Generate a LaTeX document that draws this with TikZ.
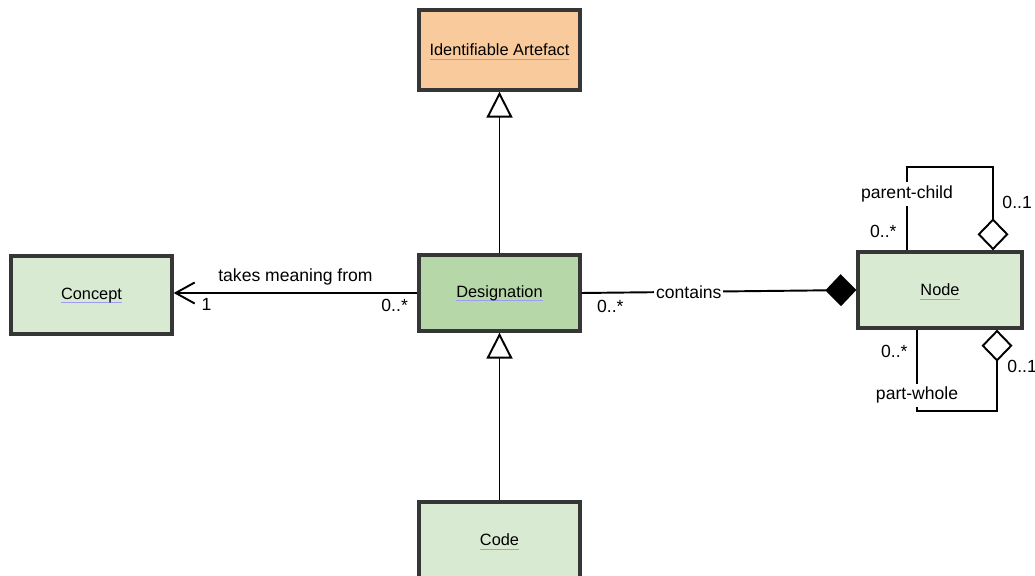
\documentclass[tikz,border=0pt]{standalone}
\usepackage{fontspec}
\setmainfont{Liberation Sans}
\usetikzlibrary{arrows.meta,positioning,calc}

\definecolor{artefactorange}{HTML}{F9CB9C}
\definecolor{lightgreen}{HTML}{D9EAD3}
\definecolor{midgreen}{HTML}{B6D7A8}
\definecolor{boxedge}{HTML}{363636}
\definecolor{linkblue}{HTML}{9C9CF2}

% underlined class name, like a link
\newcommand{\lnk}[1]{\setbox0\hbox{#1}\rlap{\smash{\color{linkblue}\rule[-2.4pt]{\wd0}{0.6pt}}}\box0}

\begin{document}
\begin{tikzpicture}[>={Straight Barb[length=0.38cm,width=0.42cm]},
  cls/.style={draw=boxedge, line width=1.9pt, minimum width=3.22cm, minimum height=1.52cm,
    font=\fontsize{9.3}{11}\selectfont},
  lbl/.style={font=\fontsize{10}{12}\selectfont, inner sep=2pt},
  conn/.style={line width=1.1pt},
  gen/.style={conn, -{Triangle[open,length=0.52cm,width=0.52cm]}},
  comp/.style={conn, -{Diamond[length=0.62cm,width=0.64cm]}},
  aggr/.style={conn, -{Diamond[open,length=0.64cm,width=0.62cm]}}]

\useasboundingbox (0,0) rectangle (20.7,11.52);

% Classes
\node[cls, fill=artefactorange, minimum height=1.6cm] (art) at (9.99,10.52) {\lnk{Identifiable Artefact}};
\node[cls, fill=lightgreen, minimum height=1.56cm] (concept) at (1.83,5.62) {\lnk{Concept}};
\node[cls, fill=midgreen] (desig) at (9.99,5.66) {\lnk{Designation}};
\node[cls, fill=lightgreen] (code) at (9.99,0.72) {\lnk{Code}};
\node[cls, fill=lightgreen, minimum width=3.28cm] (nd) at (18.8,5.72) {\lnk{Node}};

% Generalisations
\draw[gen] (desig) -- (art);
\draw[gen] (code) -- (desig);

% Association to Concept
\draw[conn, ->] (desig.west) node[lbl, below left=0.8pt and 0.1cm] {0..*}
    -- node[lbl, above=2pt] {takes meaning from}
    (desig.west -| concept.east) node[lbl, below right=0.8pt and 0.47cm] {1};

% Composition into Node
\draw[comp] (desig.east) node[lbl, below right=1.4pt and 0.22cm] {0..*}
    -- node[lbl, fill=white, inner sep=1pt, pos=0.39] {contains} (nd.west);

% Self loops on Node
\draw[aggr] ([xshift=-0.66cm]nd.north) node[lbl, above left=0.17cm and 0.12cm] {0..*}
    -- node[lbl, fill=white, pos=0.68] {parent-child} ++(0,1.66)
    -| node[lbl, right=0.1cm, pos=0.71] {0..1} ([xshift=1.06cm]nd.north);

\draw[aggr] ([xshift=-0.46cm]nd.south) node[lbl, below left=0.23cm and 0.1cm] {0..*}
    -- node[lbl, fill=white, pos=0.81] {part-whole} ++(0,-1.62)
    -| node[lbl, right=0.12cm, pos=0.77] {0..1} ([xshift=1.14cm]nd.south);

\end{tikzpicture}
\end{document}
